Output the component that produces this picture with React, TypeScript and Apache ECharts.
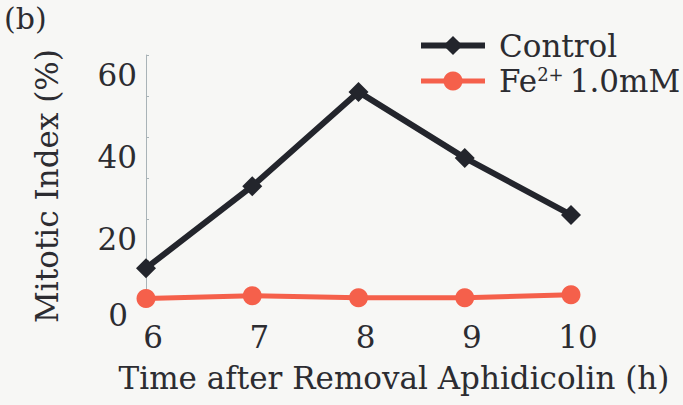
import React, { useEffect, useRef } from "react";
import * as echarts from "echarts";

// Hours after aphidicolin removal
const hours = ["6", "7", "8", "9", "10"];
// Mitotic index (%) per condition
const controlValues = [8.0, 28.0, 51.0, 34.9, 21.0];
const ironValues = [0.6, 1.3, 0.8, 0.8, 1.5];
// Y axis tick labels
const yTicks = [0, 20, 40, 60];

const SERIF = "'DejaVu Serif', 'Liberation Serif', serif";
const INK = "#2c2c31";
const BLACK_LINE = "#23252c";
const RED_LINE = "#f5604b";
const BG = "#f7f7f5";

export default function App() {
  const ref = useRef<HTMLDivElement>(null);

  useEffect(() => {
    if (!ref.current) return;
    const chart = echarts.init(ref.current, undefined, { renderer: "svg" });
    chart.setOption({
      animation: false,
      backgroundColor: BG,
      grid: { left: 146, right: 112, top: 55, bottom: 104, containLabel: false },
      legend: {
        orient: "vertical",
        left: 413,
        top: 25,
        itemWidth: 64,
        itemHeight: 24,
        itemGap: 4,
        data: [
          { name: "Control", lineStyle: { width: 6, color: BLACK_LINE } },
          { name: "Fe2+ 1.0mM", lineStyle: { width: 5, color: RED_LINE } },
        ],
        formatter: (name: string) =>
          name === "Control" ? "{t|Control}" : "{t|Fe}{s|2+}{u|1.0mM}",
        textStyle: {
          color: INK,
          fontFamily: SERIF,
          fontSize: 31,
          rich: {
            t: { fontFamily: SERIF, fontSize: 31, color: INK, padding: [0, 0, 0, 9] },
            s: { fontFamily: SERIF, fontSize: 18, color: INK, padding: [0, 6, 14, 0] },
            u: { fontFamily: SERIF, fontSize: 31, color: INK },
          },
        },
      },
      xAxis: {
        type: "category",
        data: hours,
        boundaryGap: false,
        axisLine: { show: false },
        axisTick: { show: false },
        axisLabel: {
          color: INK,
          fontFamily: SERIF,
          fontSize: 31,
          margin: 20,
          padding: [0, 0, 0, 14],
        },
        splitLine: { show: false },
      },
      yAxis: {
        type: "value",
        min: 0,
        max: 60,
        interval: 20,
        axisLine: { show: true, lineStyle: { color: "#a9b3b7", width: 1 } },
        axisTick: { show: true, inside: true, length: 3, lineStyle: { color: "#a9b3b7" } },
        minorTick: { show: true, splitNumber: 2, length: 3, lineStyle: { color: "#a9b3b7" } },
        splitLine: { show: false },
        axisLabel: {
          margin: 9,
          formatter: (v: number) =>
            yTicks.includes(v) ? (v === 0 ? "{z|0}" : `{n|${v}}`) : "",
          rich: {
            n: { fontFamily: SERIF, fontSize: 31, color: INK, padding: [40, 0, 0, 0] },
            z: { fontFamily: SERIF, fontSize: 31, color: INK, padding: [28, 9, 0, 0] },
          },
        },
      },
      series: [
        {
          name: "Control",
          type: "line",
          data: controlValues,
          symbol: "diamond",
          symbolSize: 20,
          itemStyle: { color: BLACK_LINE },
          lineStyle: { color: BLACK_LINE, width: 6 },
          z: 3,
        },
        {
          name: "Fe2+ 1.0mM",
          type: "line",
          data: ironValues,
          symbol: "circle",
          symbolSize: 19,
          itemStyle: { color: RED_LINE },
          lineStyle: { color: RED_LINE, width: 5 },
          z: 2,
        },
      ],
      graphic: [
        {
          type: "text",
          left: 4,
          top: 3,
          style: { text: "(b)", fontFamily: SERIF, fontSize: 30, fill: INK },
        },
        {
          type: "text",
          x: 47,
          y: 186,
          rotation: Math.PI / 2,
          style: {
            text: "Mitotic Index (%)",
            fontFamily: SERIF,
            fontSize: 31,
            fill: INK,
            align: "center",
            verticalAlign: "middle",
          },
        },
        {
          type: "text",
          x: 394,
          y: 378,
          style: {
            text: "Time after Removal Aphidicolin (h)",
            fontFamily: SERIF,
            fontSize: 31,
            fill: INK,
            align: "center",
            verticalAlign: "middle",
          },
        },
      ],
    });
    return () => chart.dispose();
  }, []);

  return (
    <div
      ref={ref}
      style={{ width: 683, height: 405, position: "fixed", left: 0, top: 0, background: BG }}
    />
  );
}
